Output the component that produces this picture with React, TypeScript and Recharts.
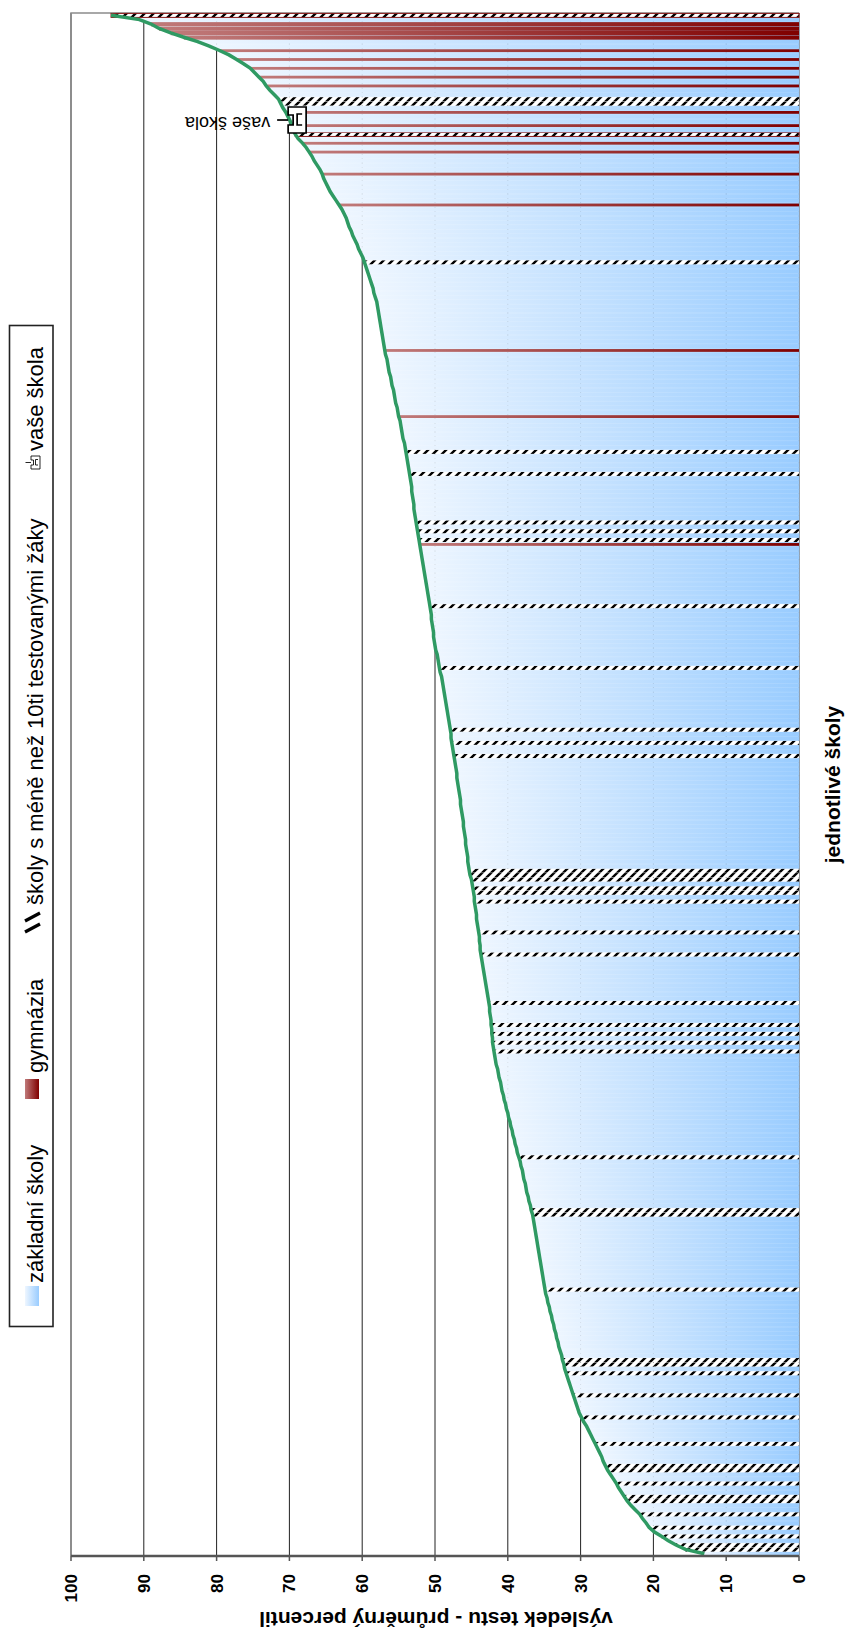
import React from 'react';
import {
  ComposedChart,
  Bar,
  Line,
  XAxis,
  YAxis,
  CartesianGrid,
  ReferenceDot,
  Customized,
} from 'recharts';

const FONT = "Arial, 'Liberation Sans', Helvetica, sans-serif";

// průměrný percentil jednotlivých škol, seřazeno vzestupně
const percentil = [
  13.0, 15.6, 16.9, 18.0, 18.9, 19.9, 20.6, 21.0, 21.5, 21.9,
  22.5, 23.1, 23.6, 24.0, 24.4, 24.8, 25.1, 25.5, 25.9, 26.3,
  26.6, 26.9, 27.1, 27.4, 27.7, 28.0, 28.3, 28.6, 28.9, 29.2,
  29.6, 29.9, 30.2, 30.4, 30.6, 30.8, 31.0, 31.2, 31.4, 31.6,
  31.8, 32.0, 32.2, 32.3, 32.5, 32.6, 32.8, 33.0, 33.1, 33.3,
  33.4, 33.6, 33.7, 33.9, 34.0, 34.2, 34.3, 34.5, 34.6, 34.8,
  34.9, 35.0, 35.1, 35.2, 35.3, 35.4, 35.5, 35.6, 35.7, 35.8,
  35.9, 36.0, 36.1, 36.2, 36.3, 36.4, 36.5, 36.6, 36.8, 36.9,
  37.1, 37.2, 37.4, 37.5, 37.6, 37.8, 37.9, 38.0, 38.2, 38.3,
  38.5, 38.7, 38.8, 39.0, 39.1, 39.3, 39.4, 39.6, 39.7, 39.9,
  40.0, 40.2, 40.3, 40.5, 40.6, 40.8, 40.9, 41.0, 41.2, 41.3,
  41.4, 41.6, 41.7, 41.8, 41.9, 42.0, 42.1, 42.1, 42.2, 42.2,
  42.3, 42.3, 42.4, 42.5, 42.5, 42.6, 42.7, 42.8, 42.9, 43.0,
  43.1, 43.2, 43.3, 43.4, 43.5, 43.6, 43.7, 43.8, 43.8, 43.9,
  43.9, 44.0, 44.1, 44.2, 44.3, 44.3, 44.4, 44.5, 44.6, 44.6,
  44.7, 44.8, 44.9, 45.0, 45.2, 45.3, 45.4, 45.5, 45.5, 45.6,
  45.7, 45.8, 45.8, 45.9, 46.0, 46.1, 46.1, 46.2, 46.3, 46.4,
  46.5, 46.5, 46.6, 46.7, 46.8, 46.9, 47.0, 47.0, 47.1, 47.2,
  47.3, 47.4, 47.5, 47.6, 47.7, 47.8, 47.8, 47.9, 48.0, 48.1,
  48.2, 48.3, 48.4, 48.5, 48.6, 48.7, 48.8, 48.9, 49.0, 49.1,
  49.3, 49.4, 49.5, 49.6, 49.7, 49.9, 50.0, 50.1, 50.2, 50.2,
  50.3, 50.4, 50.5, 50.5, 50.6, 50.7, 50.8, 50.9, 51.0, 51.1,
  51.2, 51.3, 51.4, 51.5, 51.6, 51.7, 51.8, 51.9, 52.0, 52.1,
  52.2, 52.3, 52.4, 52.5, 52.6, 52.7, 52.8, 52.9, 52.9, 53.0,
  53.1, 53.2, 53.2, 53.3, 53.4, 53.5, 53.6, 53.7, 53.8, 53.9,
  54.0, 54.1, 54.2, 54.4, 54.5, 54.6, 54.7, 54.8, 55.0, 55.1,
  55.2, 55.4, 55.5, 55.6, 55.7, 55.9, 56.0, 56.1, 56.3, 56.4,
  56.5, 56.6, 56.8, 56.9, 57.0, 57.1, 57.2, 57.3, 57.4, 57.5,
  57.6, 57.7, 57.8, 57.9, 58.0, 58.2, 58.4, 58.5, 58.7, 58.9,
  59.1, 59.3, 59.5, 59.7, 59.9, 60.2, 60.5, 60.7, 61.0, 61.3,
  61.5, 61.8, 62.0, 62.2, 62.5, 62.8, 63.2, 63.6, 64.0, 64.4,
  64.7, 65.0, 65.3, 65.5, 65.8, 66.2, 66.6, 66.9, 67.3, 67.7,
  68.2, 68.8, 69.2, 69.5, 69.7, 69.9, 70.2, 70.5, 70.9, 71.2,
  71.5, 72.1, 72.7, 73.2, 73.6, 74.2, 74.8, 75.4, 76.3, 77.3,
  78.3, 79.6, 81.0, 82.6, 84.5, 86.3, 87.9, 89.0, 90.6, 94.5,
];

// pořadí škol (index v poli percentil)
const gymnazia = [229, 258, 273, 306, 313, 318, 320, 324, 327, 333, 335, 337, 339, 341, 344, 345, 346, 347];
const maloZaku = [
  1, 2, 4, 6, 9, 12, 13, 16, 19, 20, 25, 31, 36, 41, 43, 44, 60, 77, 78, 90,
  114, 116, 118, 120, 125, 136, 141, 148, 150, 151, 153, 154, 155, 181, 184, 187,
  201, 215, 230, 232, 234, 245, 250, 293, 322, 329, 330, 349,
];
const gymnaziaMaloZaku = [322, 349];
const vaseSkola = 325;

const percentilTicks = [0, 10, 20, 30, 40, 50, 60, 70, 80, 90, 100];

const legendLabels = ['základní školy', 'gymnázia', 'školy s méně než 10ti testovanými žáky', 'vaše škola'];

const data = percentil.map((v, i) => ({ skola: i, v }));

function SkolaBar(props: any) {
  const { x, y, width, height, payload } = props;
  if (!height || height <= 0) return null;
  const i = payload.skola;

  if (maloZaku.includes(i)) {
    const red = gymnaziaMaloZaku.includes(i);
    return (
      <rect
        x={x}
        y={y}
        width={width}
        height={height}
        fill="url(#srafa)"
        stroke={red ? '#8b1a1a' : 'none'}
        strokeWidth={red ? 1 : 0}
      />
    );
  }

  const blue = (
    <rect x={x} y={y} width={width} height={height} fill="url(#zsGrad)" stroke="url(#zsGrad)" strokeWidth={0.6} />
  );
  if (!gymnazia.includes(i)) return blue;

  // gymnázia: tenčí červený sloupec, sousedící gymnázia splývají
  const joined = gymnazia.includes(i - 1) || gymnazia.includes(i + 1);
  const w = joined ? width + 0.4 : 2.8;
  return (
    <g>
      {blue}
      <rect x={x + (width - w) / 2} y={y} width={w} height={height} fill="url(#gymGrad)" />
    </g>
  );
}

function MarkerShape({ cx, cy, s = 1 }: { cx: number; cy: number; s?: number }) {
  return (
    <g transform={`translate(${cx},${cy}) scale(${s})`} stroke="#000" strokeWidth={1.7} fill="#fff">
      <path d="M-12,16 L-12,-2 L-4,-2 L-4,3 L6,3 L6,-2 L14,-2 L14,16 Z" />
      <path d="M-4,12 L-4,7 L7,7 L7,12" fill="none" />
      <line x1={1} y1={-2} x2={1} y2={-13} />
    </g>
  );
}

function VaseSkolaDot(props: any) {
  const { cx, cy } = props;
  return (
    <g>
      <MarkerShape cx={cx} cy={cy} />
      <text
        transform={`translate(${cx + 4},${cy - 20}) rotate(-90)`}
        fontFamily={FONT}
        fontSize={18}
        fill="#000"
      >
        {legendLabels[3]}
      </text>
    </g>
  );
}

function Decor() {
  return (
    <g fontFamily={FONT} fill="#000">
      <polyline points="78,71 1621,71 1621,799" fill="none" stroke="#8c8c8c" strokeWidth={1.5} />
      <text transform="translate(22,436) rotate(-90)" textAnchor="middle" fontSize={21} fontWeight={700}>
        výsledek testu - průměrný percentil
      </text>
      <text x={849.5} y={840} textAnchor="middle" fontSize={21} fontWeight={700}>
        jednotlivé školy
      </text>

      {/* legenda */}
      <rect x={307.5} y={9.5} width={1001} height={43.5} fill="#fff" stroke="#222" strokeWidth={1.6} />
      <rect x={328} y={25} width={20} height={14} fill="url(#zsGrad)" />
      <text x={351} y={43} fontSize={22}>{legendLabels[0]}</text>
      <rect x={535} y={25} width={20} height={14} fill="url(#gymGrad)" />
      <text x={561} y={43} fontSize={22}>{legendLabels[1]}</text>
      <g stroke="#000" strokeWidth={3.2}>
        <line x1={702} y1={25} x2={710} y2={40} />
        <line x1={713} y1={25} x2={721} y2={40} />
      </g>
      <text x={729} y={43} fontSize={22}>{legendLabels[2]}</text>
      <MarkerShape cx={1171} cy={32} s={0.5} />
      <text x={1183} y={43} fontSize={22}>{legendLabels[3]}</text>
    </g>
  );
}

export default function App() {
  return (
    <div style={{ position: 'absolute', left: 0, top: 0, width: 850, height: 1634, overflow: 'hidden', background: '#fff' }}>
      <div
        style={{
          position: 'absolute',
          left: 0,
          top: 0,
          width: 1634,
          height: 850,
          transformOrigin: '0 0',
          transform: 'translateY(1634px) rotate(-90deg)',
        }}
      >
        <ComposedChart
          width={1634}
          height={850}
          data={data}
          margin={{ top: 71, right: 13, bottom: 51, left: 0 }}
          barCategoryGap={0}
          barGap={0}
        >
          <defs>
            <linearGradient id="zsGrad" x1="0" y1="0" x2="0" y2="1">
              <stop offset="0%" stopColor="#eef6ff" />
              <stop offset="100%" stopColor="#99ccff" />
            </linearGradient>
            <linearGradient id="gymGrad" x1="0" y1="0" x2="0" y2="1">
              <stop offset="0%" stopColor="#c07a7a" />
              <stop offset="100%" stopColor="#800000" />
            </linearGradient>
            <pattern id="srafa" patternUnits="userSpaceOnUse" width="9" height="9">
              <rect width="9" height="9" fill="#fff" />
              <path d="M-2.25,-2.25 L11.25,11.25 M-2.25,6.75 L2.25,11.25 M6.75,-2.25 L11.25,2.25" stroke="#000" strokeWidth="2.4" />
            </pattern>
          </defs>
          <CartesianGrid vertical={false} stroke="#222" strokeWidth={1} />
          <XAxis dataKey="skola" hide />
          <YAxis
            domain={[0, 100]}
            ticks={percentilTicks}
            interval={0}
            width={78}
            tickSize={5}
            tickMargin={13}
            axisLine={{ stroke: '#555', strokeWidth: 2.5 }}
            tickLine={{ stroke: '#555', strokeWidth: 1.5 }}
            tick={{ fontSize: 17, fontWeight: 700, fill: '#000', fontFamily: FONT }}
          />
          <Bar dataKey="v" isAnimationActive={false} shape={SkolaBar} />
          <Line
            dataKey="v"
            type="linear"
            stroke="#2f9a63"
            strokeWidth={3.5}
            dot={false}
            activeDot={false}
            isAnimationActive={false}
          />
          <ReferenceDot x={vaseSkola} y={percentil[vaseSkola]} r={0} ifOverflow="visible" shape={VaseSkolaDot} />
          <Customized component={Decor} />
        </ComposedChart>
      </div>
    </div>
  );
}
